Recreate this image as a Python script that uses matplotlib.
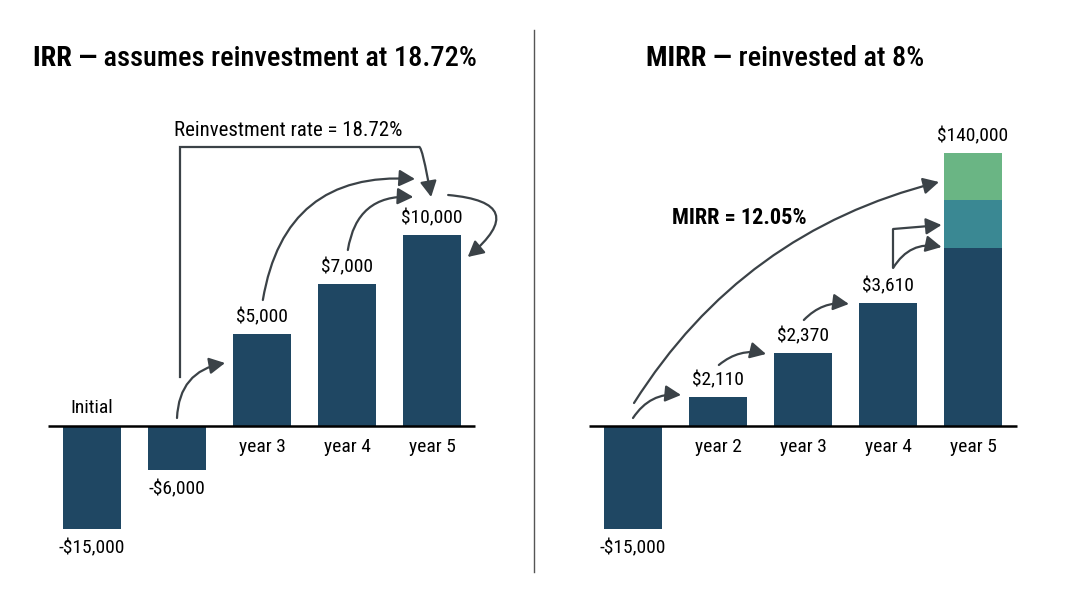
import os
import matplotlib
matplotlib.use("Agg")
import matplotlib.pyplot as plt
from matplotlib import font_manager as fm
from matplotlib.patches import FancyArrowPatch
from matplotlib.lines import Line2D

# ---------------- data ----------------
irr_categories = ["Initial", "", "year 3", "year 4", "year 5"]
irr_heights = [-103, -44, 92, 142, 191]          # visual (illustrative) heights
irr_labels = ["-$15,000", "-$6,000", "$5,000", "$7,000", "$10,000"]

mirr_categories = ["", "year 2", "year 3", "year 4", "year 5"]
mirr_heights = [-103, 29, 73, 123, 178]
mirr_labels = ["-$15,000", "$2,110", "$2,370", "$3,610", "$140,000"]
mirr_stack = [48, 47]                           # reinvested growth layers on year 5

irr_title_bold = "IRR —"
irr_title_rest = " assumes reinvestment at 18.72%"
mirr_title_bold = "MIRR —"
mirr_title_rest = " reinvested at 8%"
irr_note = "Reinvestment rate = 18.72%"
mirr_note = "MIRR = 12.05%"

NAVY = "#1f4763"
TEAL = "#3a8893"
GREEN = "#6ab584"
ARROW = "#3b4247"

# ---------------- fonts ----------------
def find_font(keys, want):
    for f in fm.fontManager.ttflist:
        b = os.path.basename(f.fname).lower()
        if all(k in b for k in keys) and "italic" not in b and "oblique" not in b:
            if want == "bold" and "bold" in b and "semi" not in b and "extra" not in b:
                return f.fname
            if want == "regular" and not any(w in b for w in ("bold", "light", "thin", "medium", "black")):
                return f.fname
            if want == "medium" and "medium" in b:
                return f.fname
    return None

reg = bold = med = None
for keys in (["liberationsansnarrow"], ["robotocondensed"], ["dejavusanscondensed"], ["opensans", "condensed"]):
    r = find_font(keys, "regular")
    b = find_font(keys, "bold")
    if r and b:
        reg, bold = r, b
        med = find_font(keys, "medium") or r
        break

def fp(size, weight="regular"):
    if reg:
        f = {"regular": reg, "bold": bold, "medium": med}[weight]
        return fm.FontProperties(fname=f, size=size)
    return fm.FontProperties(family="Liberation Sans",
                             weight=("bold" if weight == "bold" else "normal"), size=size * 0.85)

W, H = 1068, 601
fig = plt.figure(figsize=(W / 100, H / 100), dpi=100)
fig.patch.set_facecolor("white")

UNIT = 85.0  # px per bar slot
BASE = 426   # baseline pixel row from top

def make_axes(x0px, first_center):
    ax = fig.add_axes([x0px / W, 0, 534 / W, 1])
    a = -(first_center - x0px) / UNIT
    ax.set_xlim(a, a + 534 / UNIT)
    ax.set_ylim(-(H - BASE), BASE)
    ax.axis("off")
    return ax

axL = make_axes(0, 92)
axR = make_axes(534, 633)

BW = 58 / UNIT
LBL = 14

def arrow(ax, p0, p1, cs):
    a = FancyArrowPatch(p0, p1, connectionstyle=cs,
                        arrowstyle="-|>,head_length=0.95,head_width=0.5",
                        mutation_scale=10, lw=1.6, color=ARROW,
                        shrinkA=0, shrinkB=0, zorder=5)
    ax.add_patch(a)

# ---------- left panel ----------
xs = list(range(len(irr_heights)))
axL.bar(xs, irr_heights, width=BW, color=NAVY, zorder=2)
axL.plot([-0.518, 4.506], [0, 0], color="black", lw=1.8, zorder=3, solid_capstyle="butt")
for i, (h, lab, cat) in enumerate(zip(irr_heights, irr_labels, irr_categories)):
    if h >= 0:
        axL.text(i, h + 17, lab, ha="center", va="center", fontproperties=fp(LBL))
        axL.text(i, -21, cat, ha="center", va="center", fontproperties=fp(LBL))
    else:
        axL.text(i, h - 19, lab, ha="center", va="center", fontproperties=fp(LBL))
        if cat:
            axL.text(i, 18, cat, ha="center", va="center", fontproperties=fp(LBL))

axL.text(0.965, 296, irr_note, ha="left", va="center", fontproperties=fp(15))
# bracket from year-2 cash flow to year 5
axL.plot([1.035, 1.035, 3.85], [49, 279, 279], color=ARROW, lw=1.6, zorder=5,
         solid_joinstyle="miter")
arrow(axL, (3.85, 279), (3.99, 229), "angle3,angleA=0,angleB=100")
arrow(axL, (1.0, 8), (1.565, 63), "arc3,rad=-0.4")
arrow(axL, (2.01, 126), (3.8, 247), "arc3,rad=-0.45")
arrow(axL, (3.01, 176), (3.78, 229), "arc3,rad=-0.45")
arrow(axL, (4.19, 231), (4.42, 169), "arc3,rad=-1.2")

# ---------- right panel ----------
axR.bar(xs, mirr_heights, width=BW, color=NAVY, zorder=2)
axR.bar([4], [mirr_stack[0]], bottom=[mirr_heights[4]], width=BW, color=TEAL, zorder=2)
axR.bar([4], [mirr_stack[1]], bottom=[mirr_heights[4] + mirr_stack[0]], width=BW, color=GREEN, zorder=2)
axR.plot([-0.518, 4.518], [0, 0], color="black", lw=1.8, zorder=3, solid_capstyle="butt")
tops = list(mirr_heights)
tops[4] = mirr_heights[4] + sum(mirr_stack)
for i, (h, lab, cat) in enumerate(zip(tops, mirr_labels, mirr_categories)):
    if h >= 0:
        axR.text(i, h + 17, lab, ha="center", va="center", fontproperties=fp(LBL))
        axR.text(i, -21, cat, ha="center", va="center", fontproperties=fp(LBL))
    else:
        axR.text(i, h - 19, lab, ha="center", va="center", fontproperties=fp(LBL))

axR.text(0.459, 208, mirr_note, ha="left", va="center", fontproperties=fp(16, "bold"))
arrow(axR, (0.012, 23), (3.6, 244), "arc3,rad=-0.2")
arrow(axR, (0.0, 8), (0.565, 31), "arc3,rad=-0.3")
arrow(axR, (1.01, 61), (1.565, 72), "arc3,rad=-0.25")
arrow(axR, (2.01, 106), (2.54, 122), "arc3,rad=-0.25")
arrow(axR, (3.06, 158), (3.63, 179), "arc3,rad=-0.35")
axR.plot([3.06, 3.06], [158, 197], color=ARROW, lw=1.6, zorder=5, solid_capstyle="butt")
arrow(axR, (3.06, 197), (3.63, 201), "arc3,rad=0")

# ---------- titles ----------
TS = 20.4
def title(x0px, bpart, rpart):
    t1 = fig.text(x0px / W, 1 - 58 / H, bpart, ha="left", va="center", fontproperties=fp(TS, "bold"))
    axL.annotate(rpart, xy=(1, 0), xycoords=t1, ha="left", va="bottom",
                 fontproperties=fp(TS, "medium"), annotation_clip=False)

title(33, irr_title_bold, irr_title_rest)
title(646, mirr_title_bold, mirr_title_rest)

# divider
fig.add_artist(Line2D([534 / W, 534 / W], [1 - 30 / H, 1 - 572 / H], color="#555555", lw=1.0))

fig.savefig("out.png", dpi=100, facecolor="white")
